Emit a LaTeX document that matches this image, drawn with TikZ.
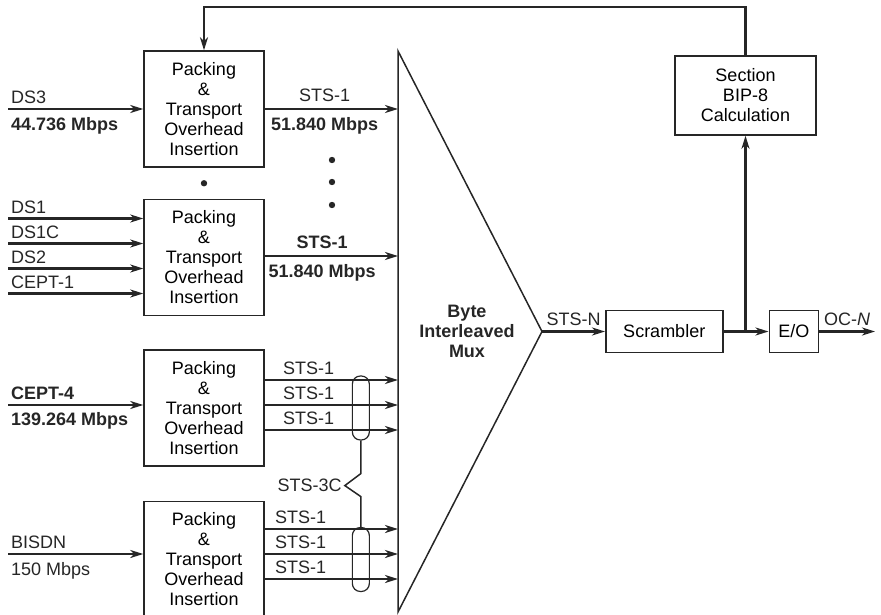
\documentclass[tikz,border=0pt]{standalone}
\usepackage{fontspec}
\setmainfont{Liberation Sans}
\usetikzlibrary{arrows.meta, positioning, calc}
\definecolor{ink}{HTML}{262626}

\begin{document}
\begin{tikzpicture}[
  x=1pt, y=-1pt,
  block/.style={rectangle, draw=ink, line width=1.5pt, minimum width=120pt,
                minimum height=116pt, align=center, inner sep=2pt,
                font=\fontsize{18}{20}\selectfont},
  small/.style={block, minimum height=42pt},
  grp/.style={rectangle, rounded corners=8pt, draw=ink, line width=1.2pt,
              minimum width=17pt, minimum height=64pt, inner sep=0pt},
  lab/.style={font=\fontsize{18}{20}\selectfont, inner sep=2pt, text=ink},
  bold/.style={font=\fontsize{18}{20}\selectfont\bfseries, inner sep=2pt, text=ink},
  line/.style={-{Stealth[length=13pt,width=8pt,inset=4pt]}, line width=2.2pt, draw=ink},
  wire/.style={line width=1.5pt, draw=ink},
  node distance=31pt
]
  \useasboundingbox (0,0) rectangle (881,615);

  % packing boxes
  \node[block] (box1) at (204,109) {Packing\\\&\\Transport\\Overhead\\Insertion};
  \node[block, below=31pt of box1] (box2) {Packing\\\&\\Transport\\Overhead\\Insertion};
  \node[block, below=33pt of box2] (box3) {Packing\\\&\\Transport\\Overhead\\Insertion};
  \node[block, below=34pt of box3] (box4) {Packing\\\&\\Transport\\Overhead\\Insertion};

  % mux
  \coordinate (mt) at (398,51);
  \coordinate (mb) at (398,612);
  \coordinate (mx) at (542,331.5);
  \draw[wire] (mt) -- (mx) -- (mb) -- cycle;
  \node[bold, align=center] (mux) at (467,331) {Byte\\Interleaved\\Mux};

  \coordinate (m1) at (398,109);
  \coordinate (m2) at (398,256);
  \coordinate (m3a) at (398,380);
  \coordinate (m3b) at (398,405);
  \coordinate (m3c) at (398,430);
  \coordinate (m4a) at (398,529);
  \coordinate (m4b) at (398,554);
  \coordinate (m4c) at (398,579);

  % right side
  \node[small, minimum width=117pt, right=63pt of mx] (scr) {Scrambler};
  \node[small, minimum width=49pt, right=45pt of scr] (eo) {E/O};
  \node[block, minimum width=141pt, minimum height=79pt] (sec) at (745.5,95.5)
    {Section\\BIP-8\\Calculation};
  \coordinate (tap) at (sec.south |- scr.east);
  \coordinate (out) at ($(eo.east)+(56,0)$);
  \coordinate (top) at (0,7);

  % inputs
  \coordinate (ds3) at (8,109);
  \coordinate (ds1) at (8,218.5);
  \coordinate (ds1c) at (8,243.5);
  \coordinate (ds2) at (8,268.5);
  \coordinate (cept1) at (8,293.5);
  \coordinate (cept4) at (8,405);
  \coordinate (bisdn) at (8,554);

  \draw[line] (ds3) node[lab, anchor=south west, yshift=2pt] {DS3}
    node[bold, anchor=north west, yshift=-5pt] {44.736 Mbps} -- (ds3 -| box1.west);
  \draw[line] (ds1) node[lab, anchor=south west, yshift=2pt] {DS1} -- (ds1 -| box2.west);
  \draw[line] (ds1c) node[lab, anchor=south west, yshift=2pt] {DS1C} -- (ds1c -| box2.west);
  \draw[line] (ds2) node[lab, anchor=south west, yshift=2pt] {DS2} -- (ds2 -| box2.west);
  \draw[line] (cept1) node[lab, anchor=south west, yshift=2pt] {CEPT-1} -- (cept1 -| box2.west);
  \draw[line] (cept4) node[bold, anchor=south west, yshift=2pt] {CEPT-4}
    node[bold, anchor=north west, yshift=-4pt] {139.264 Mbps} -- (cept4 -| box3.west);
  \draw[line] (bisdn) node[lab, anchor=south west, yshift=2pt] {BISDN}
    node[lab, anchor=north west, yshift=-5pt] {150 Mbps} -- (bisdn -| box4.west);

  % outputs
  \draw[line] (m1 -| box1.east) -- node[lab, above=4pt, pos=0.45] {STS-1}
    node[bold, below=5pt, pos=0.45] {51.840 Mbps} (m1);
  \draw[line] (m2 -| box2.east) -- node[bold, above=4pt, pos=0.43] {STS-1}
    node[bold, below=5pt, pos=0.43] {51.840 Mbps} (m2);
  \draw[line] (m3a -| box3.east) -- node[lab, above=2pt, pos=0.33] {STS-1} (m3a);
  \draw[line] (m3b -| box3.east) -- node[lab, above=2pt, pos=0.33] {STS-1} (m3b);
  \draw[line] (m3c -| box3.east) -- node[lab, above=2pt, pos=0.33] {STS-1} (m3c);
  \draw[line] (m4a -| box4.east) -- node[lab, above=2pt, pos=0.27] {STS-1} (m4a);
  \draw[line] (m4b -| box4.east) -- node[lab, above=2pt, pos=0.27] {STS-1} (m4b);
  \draw[line] (m4c -| box4.east) -- node[lab, above=2pt, pos=0.27] {STS-1} (m4c);

  \fill[ink] ($(box1.south)!0.5!(box2.north)$) circle (3.2pt);
  \fill[ink] (332,160) circle (3.2pt);
  \fill[ink] (332,182) circle (3.2pt);
  \fill[ink] (332,205) circle (3.2pt);

  % STS-3C grouping
  \node[grp, right=87pt of box3] (grp3) {};
  \node[grp, right=87pt of box4] (grp4) {};
  \draw[wire] (grp3.south) -- ++(0,33) -- ++(-16,12) coordinate (kink)
    -- ++(16,11) -- (grp4.north);
  \node[lab, left=1pt of kink] {STS-3C};

  % line side
  \draw[line] (mx) -- node[lab, above=3pt] {STS-N} (scr);
  \draw[line] (scr) -- (eo);
  \draw[line] (tap) -- (sec.south);
  \draw[line] (eo) -- node[lab, above=3pt] {OC-\textit{N}} (out);
  \draw[line] (sec.north) -- (sec.north |- top) -| (box1.north);

\end{tikzpicture}
\end{document}
